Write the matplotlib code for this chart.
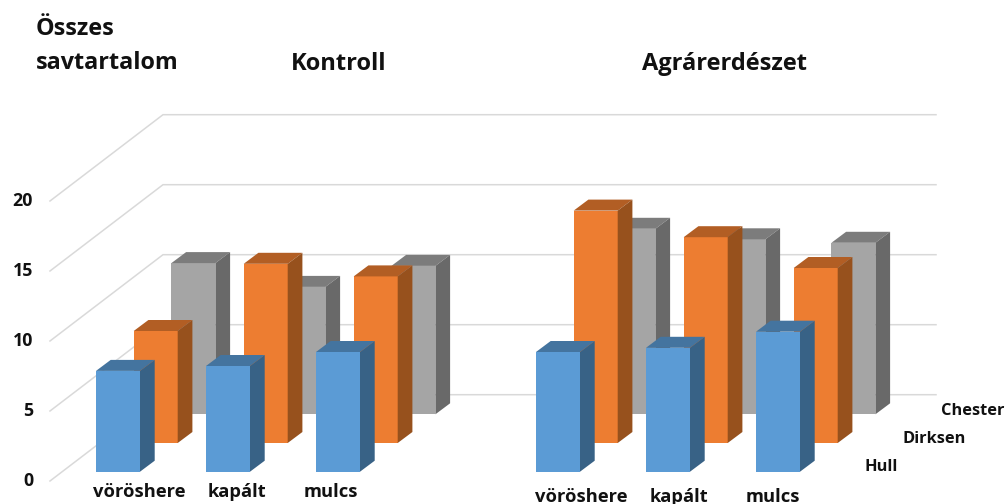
import matplotlib
matplotlib.use("Agg")
import matplotlib.pyplot as plt

plt.rcParams['font.family'] = ['Open Sans', 'DejaVu Sans']

categories = ["vöröshere", "kapált", "mulcs", "vöröshere", "kapált", "mulcs"]
series = ["Hull", "Dirksen", "Chester"]
hull = [7.2, 7.55, 8.55, 8.55, 8.85, 10.0]
dirksen = [8.0, 12.8, 11.9, 16.6, 14.7, 12.5]
chester = [10.8, 9.1, 10.6, 13.25, 12.5, 12.25]
ticks = [0, 5, 10, 15, 20]

front = ["#5B9BD5", "#ED7D31", "#A5A5A5"]
top = ["#44749F", "#B25E24", "#7C7C7C"]
side = ["#386286", "#97511D", "#696969"]

left = [96, 206, 316, 536, 646, 756]
ppu = 14.0      # pixels per value unit
base_px = 471.7 # pixel row of value 0 on the front row
w = 44
step_x, step_y = 37.7, 28.7 / ppu
dep_x, dep_y = 14.7, 11 / ppu

fig = plt.figure(figsize=(10.08, 5.04), dpi=100)
ax = fig.add_axes([0, 0, 1, 1])
ax.set_xlim(0, 1008)
ax.set_ylim((base_px - 504) / ppu, base_px / ppu)
ax.axis("off")

# gridlines: slanted side wall then back wall
for t in ticks:
    y0 = t - 9.3 / ppu
    y1 = t + 5.5
    ax.plot([50, 163, 936], [y0, y1, y1], color="#D9D9D9", lw=1.1, zorder=1)
    ax.text(33, t - 0.68, str(t), ha="right", va="center", fontsize=12.8, fontweight="bold", color="#111111")

# back row first so the front row covers it
rows = [hull, dirksen, chester]
for s in [2, 1, 0]:
    for i in range(len(left)):
        x = left[i] + s * step_x
        b = s * step_y
        v = b + rows[s][i]
        ax.fill([x, x + w, x + w, x], [b, b, v, v], color=front[s], lw=0, zorder=5 + (2 - s))
        ax.fill([x, x + w, x + w + dep_x, x + dep_x], [v, v, v + dep_y, v + dep_y], color=top[s], lw=0, zorder=5 + (2 - s))
        ax.fill([x + w, x + w + dep_x, x + w + dep_x, x + w], [b, b + dep_y, v + dep_y, v], color=side[s], lw=0, zorder=5 + (2 - s))

def label(x, y, s, size, ha="left"):
    fig.text(x / 1008, 1 - y / 504, s, ha=ha, va="center", fontsize=size, fontweight="bold", color="#111111")

label(139.5, 492, categories[0], 13.2, "center")
label(237, 492, categories[1], 13.2, "center")
label(330.5, 492, categories[2], 13.2, "center")
label(581.5, 497, categories[3], 13.2, "center")
label(679, 497, categories[4], 13.2, "center")
label(772.5, 497, categories[5], 13.2, "center")

label(941, 411, series[2], 11.8)
label(902, 439, series[1], 11.8)
label(865, 467, series[0], 11.8)

label(36, 29, "Összes", 16.8)
label(36, 63, "savtartalom", 16.8)
label(339, 64, "Kontroll", 17, "center")
label(724.5, 64, "Agrárerdészet", 17, "center")

fig.savefig("out.png", dpi=100)
